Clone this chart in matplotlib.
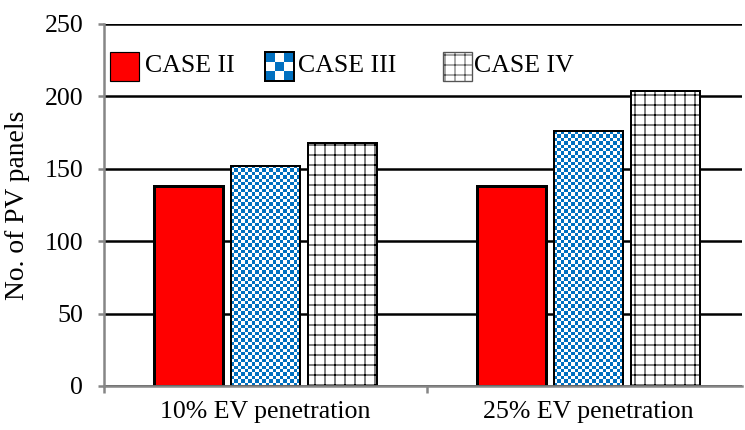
import numpy as np
import matplotlib
matplotlib.use("Agg")
import matplotlib.pyplot as plt
from matplotlib.patches import Rectangle

# Data
groups = ["10% EV penetration", "25% EV penetration"]
cases = ["CASE II", "CASE III", "CASE IV"]
case2 = [138, 138]
case3 = [152, 176]
case4 = [168, 204]

plt.rcParams["font.family"] = ["Liberation Serif", "DejaVu Serif"]
plt.rcParams["hatch.linewidth"] = 0.6
plt.rcParams["hatch.color"] = "#3a3a3a"

DPI = 120
fig = plt.figure(figsize=(745 / DPI, 430 / DPI), dpi=DPI)
ax = fig.add_axes([104 / 745, 44 / 430, 638 / 745, 362 / 430])

ax.set_xlim(-0.5, 1.475)
ax.set_ylim(0, 250)

x = np.arange(len(groups))
offset = 0.238
width = 0.214
blue = "#0070C0"
cell_px = 3.4


def checker(nx, ny):
    img = np.ones((ny, nx, 3))
    rgb = np.array(matplotlib.colors.to_rgb(blue))
    yy, xx = np.mgrid[0:ny, 0:nx]
    img[(xx + yy) % 2 == 0] = rgb
    return img


# Case II: solid red
ax.bar(x - offset, case2, width, color="red", edgecolor="black",
       linewidth=1.8, zorder=3)

# Case III: blue checkerboard drawn as an image inside each bar
bars3 = ax.bar(x, case3, width, facecolor="none", edgecolor="black",
               linewidth=1.2, zorder=4)
for b in bars3:
    x0, y0 = b.get_x(), b.get_y()
    x1, y1 = x0 + b.get_width(), y0 + b.get_height()
    (px0, py0), (px1, py1) = ax.transData.transform([(x0, y0), (x1, y1)])
    nx = max(1, int(round((px1 - px0) / cell_px)))
    ny = max(1, int(round((py1 - py0) / cell_px)))
    ax.imshow(checker(nx, ny)[::-1], extent=(x0, x1, y0, y1), origin="lower",
              interpolation="nearest", aspect="auto", zorder=3)

# Case IV: white with a square grid
ax.bar(x + offset, case4, width, facecolor="white", edgecolor="black",
       linewidth=1.2, hatch="++", zorder=3)
ax.bar(x + offset, case4, width, facecolor="none", edgecolor="black",
       linewidth=1.2, zorder=4)

ax.set_xlim(-0.5, 1.475)
ax.set_ylim(0, 250)

# Axes styling
ax.set_yticks(np.arange(0, 251, 50))
ax.yaxis.grid(True, color="black", linewidth=1.5, zorder=1)
ax.set_axisbelow(True)
ax.set_xticks([-0.5, 0.5, 1.5])
ax.set_xticklabels([])
ax.set_xticks(x, minor=True)
ax.set_xticklabels(groups, minor=True)
ax.tick_params(axis="x", which="minor", length=0, pad=9, labelsize=15.5)
ax.tick_params(axis="x", which="major", length=4, width=1.5, color="#868686",
               direction="out")
ax.tick_params(axis="y", length=3.5, width=1.5, color="#868686",
               direction="out", pad=9, labelsize=15.5)
for s in ["top", "right"]:
    ax.spines[s].set_visible(False)
for s in ["left", "bottom"]:
    ax.spines[s].set_color("#868686")
    ax.spines[s].set_linewidth(1.5)
    ax.spines[s].set_zorder(5)

ax.set_ylabel("No. of PV panels", fontsize=16.5)
ax.yaxis.set_label_coords(-0.116, 0.5)

# Legend drawn across the top of the plot area
sq_w, sq_h = 29 / 638, 29 / 362
sq_y = (386 - 81) / 362
text_y = (386 - 66) / 362
leg_x = [6 / 638, 161 / 638, 339 / 638]
txt_x = [41 / 638, 194 / 638, 370 / 638]

ax.add_patch(Rectangle((leg_x[0], sq_y), sq_w, sq_h, transform=ax.transAxes,
                       facecolor="red", edgecolor="black", linewidth=0.7,
                       zorder=6))
ax.imshow(checker(3, 3), extent=(leg_x[1], leg_x[1] + sq_w, sq_y, sq_y + sq_h),
          transform=ax.transAxes, interpolation="nearest", aspect="auto",
          zorder=6)
ax.add_patch(Rectangle((leg_x[1], sq_y), sq_w, sq_h, transform=ax.transAxes,
                       facecolor="none", edgecolor="black", linewidth=1.2,
                       zorder=7))
ax.add_patch(Rectangle((leg_x[2], sq_y), sq_w, sq_h, transform=ax.transAxes,
                       facecolor="white", edgecolor="#555555", linewidth=0.8,
                       hatch="++", zorder=6))
for tx, name in zip(txt_x, cases):
    ax.text(tx, text_y, name, transform=ax.transAxes, fontsize=15.5,
            va="center", ha="left", zorder=7)

ax.set_xlim(-0.5, 1.475)
ax.set_ylim(0, 250)

fig.savefig("out.png", dpi=DPI)
